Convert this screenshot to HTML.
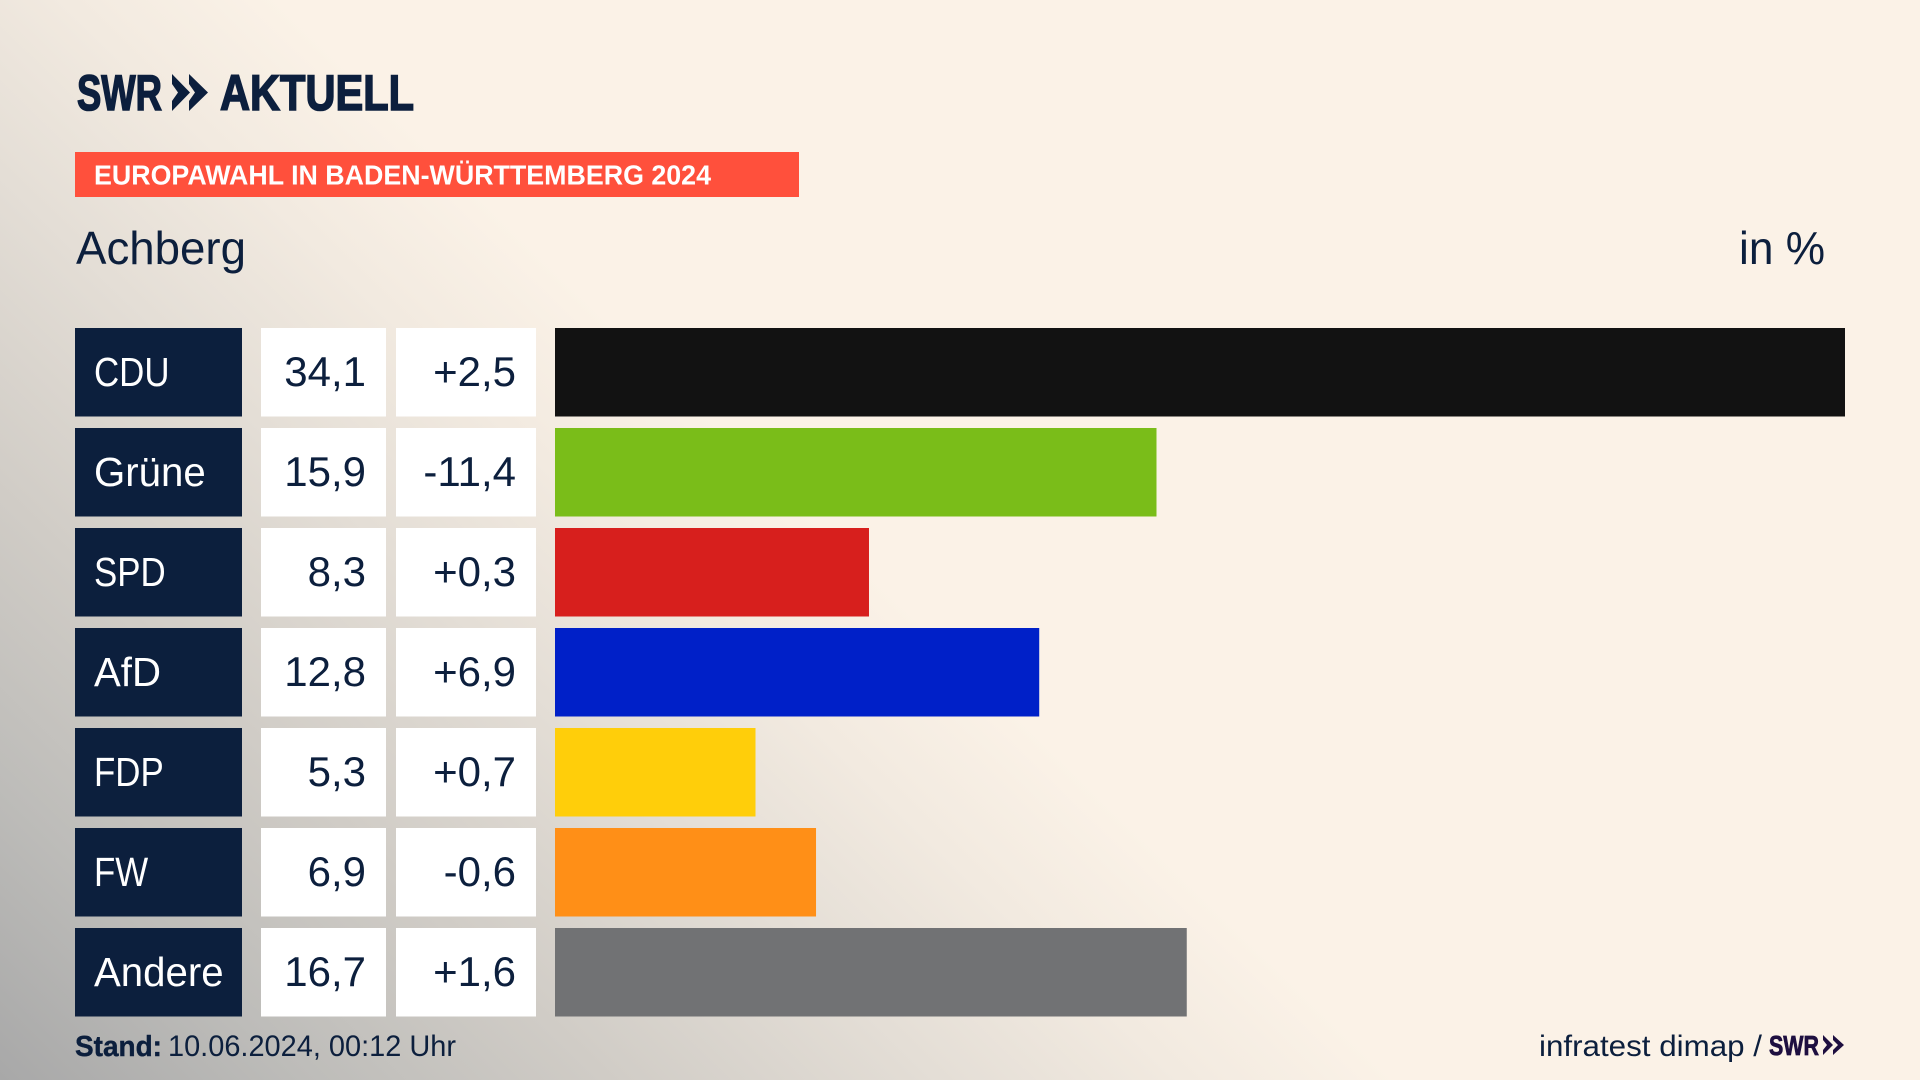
<!DOCTYPE html>
<html lang="de">
<head>
<meta charset="utf-8">
<title>Europawahl Baden-Württemberg 2024 – Achberg</title>
<style>
html,body{margin:0;padding:0;width:1920px;height:1080px;overflow:hidden;background:#fbf2e7}
#bg{position:absolute;left:0;top:0;width:1920px;height:1080px;
background:linear-gradient(44deg,#a8a8a8 0%,#bdbcb9 10%,#d0ccc6 20%,#e4ded6 31%,#f2eae0 39%,#fbf2e7 46%)}
svg{position:absolute;left:0;top:0}
text{font-family:"Liberation Sans",sans-serif;fill:#0c1f3d}
</style>
</head>
<body>
<div id="bg"></div>
<svg id="chart" width="1920" height="1080" viewBox="0 0 1920 1080" xmlns="http://www.w3.org/2000/svg">
  <g>
    <text x="77" y="110" font-size="50" font-weight="700" stroke="#0c1f3d" stroke-width="1.6" textLength="85" lengthAdjust="spacingAndGlyphs">SWR</text>
    <polygon points="172,74 190,92.5 172,111 172,101 178,92.5 172,84" fill="#0c1f3d"/>
    <polygon points="189,74 208,92.5 189,111 189,101 195,92.5 189,84" fill="#0c1f3d"/>
    <text x="220" y="110" font-size="50" font-weight="700" stroke="#0c1f3d" stroke-width="1.6" textLength="194" lengthAdjust="spacingAndGlyphs">AKTUELL</text>
  </g>
  <rect x="75" y="152" width="724" height="45" fill="#ff503c"/>
  <text x="94" y="184.5" font-size="28" font-weight="700" style="fill:#fff" textLength="617" lengthAdjust="spacingAndGlyphs">EUROPAWAHL IN BADEN-WÜRTTEMBERG 2024</text>
  <text x="76" y="264" font-size="46" textLength="170" lengthAdjust="spacingAndGlyphs">Achberg</text>
  <text x="1739" y="264" font-size="46" textLength="86" lengthAdjust="spacingAndGlyphs">in %</text>
  <g id="rows"></g>
  <text x="75" y="1056" font-size="29" font-weight="700" stroke="#0c1f3d" stroke-width="0.4" textLength="87" lengthAdjust="spacingAndGlyphs">Stand:</text>
  <text x="168" y="1056" font-size="30" textLength="288" lengthAdjust="spacingAndGlyphs">10.06.2024, 00:12 Uhr</text>
  <text x="1539" y="1056" font-size="30" textLength="223" lengthAdjust="spacingAndGlyphs">infratest dimap /</text>
  <g>
    <text x="1769" y="1055" font-size="28" font-weight="700" stroke="#1e0f40" stroke-width="0.8" style="fill:#1e0f40" textLength="50" lengthAdjust="spacingAndGlyphs">SWR</text>
    <polygon points="1823,1035 1833,1045 1823,1055 1823,1050 1827,1045 1823,1040" fill="#1e0f40"/>
    <polygon points="1833,1035 1844,1045 1833,1055 1833,1050 1838,1045 1833,1040" fill="#1e0f40"/>
  </g>
</svg>
<script>
const parties = ["CDU", "Grüne", "SPD", "AfD", "FDP", "FW", "Andere"];
const shares = [34.1, 15.9, 8.3, 12.8, 5.3, 6.9, 16.7];
const changes = [2.5, -11.4, 0.3, 6.9, 0.7, -0.6, 1.6];
const partyColors = ["#121212", "#7abd19", "#d71f1d", "#0020c8", "#ffce0a", "#ff8f17", "#717274"];

const NS = "http://www.w3.org/2000/svg";
const rowsGroup = document.getElementById("rows");

const barLeft = 555, barRight = 1845, domainMax = 34.1;
const xScale = v => barLeft + (v / domainMax) * (barRight - barLeft);
const rowTop = i => 328 + i * 100;
const rowHeight = 88.5;

const fmtShare = v => v.toFixed(1).replace(".", ",");
const fmtChange = v => (v >= 0 ? "+" : "-") + Math.abs(v).toFixed(1).replace(".", ",");

function makeRect(x, y, w, h, fill) {
  const r = document.createElementNS(NS, "rect");
  r.setAttribute("x", x);
  r.setAttribute("y", y);
  r.setAttribute("width", w);
  r.setAttribute("height", h);
  r.setAttribute("fill", fill);
  return r;
}

function makeText(str, x, y, anchor, fill, size) {
  const t = document.createElementNS(NS, "text");
  t.textContent = str;
  t.setAttribute("x", x);
  t.setAttribute("y", y);
  t.setAttribute("font-size", size);
  t.setAttribute("text-anchor", anchor);
  t.style.fill = fill;
  return t;
}

parties.forEach((party, i) => {
  const y = rowTop(i);
  const key = party.toLowerCase();

  const row = document.createElementNS(NS, "g");
  
  
  rowsGroup.appendChild(row);

  const labelBox = makeRect(75, y, 167, rowHeight, "#0c1f3d");
  
  
  row.appendChild(labelBox);

  const label = makeText(party, 94, y + 58, "start", "#ffffff", 41);
  
  
  row.appendChild(label);
  const condense = party === party.toUpperCase() ? 0.85 : 0.98;
  label.setAttribute("textLength", label.getComputedTextLength() * condense);
  label.setAttribute("lengthAdjust", "spacingAndGlyphs");

  const shareBox = makeRect(261, y, 125, rowHeight, "#ffffff");
  
  
  row.appendChild(shareBox);

  const share = makeText(fmtShare(shares[i]), 366, y + 58, "end", "#0c1f3d", 42);
  
  
  row.appendChild(share);

  const changeBox = makeRect(396, y, 140, rowHeight, "#ffffff");
  
  
  row.appendChild(changeBox);

  const change = makeText(fmtChange(changes[i]), 516, y + 58, "end", "#0c1f3d", 42);
  
  
  row.appendChild(change);

  const bar = makeRect(barLeft, y, xScale(shares[i]) - barLeft, rowHeight, partyColors[i]);
  
  
  row.appendChild(bar);
});
</script>
</body>
</html>
